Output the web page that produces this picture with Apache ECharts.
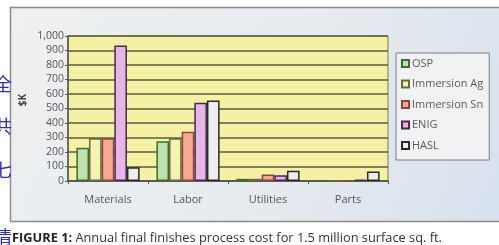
<!DOCTYPE html>
<html><head><meta charset="utf-8">
<script src="https://cdn.jsdelivr.net/npm/echarts@6/dist/echarts.min.js"></script>
<style>html,body{margin:0;padding:0;background:#fff;overflow:hidden}#c{width:499px;height:245px}</style>
</head><body><div id="c"></div>
<script>
const categories = ['Materials', 'Labor', 'Utilities', 'Parts'];
const osp = [230, 275, 15, 5];
const immersionAg = [295, 295, 15, 5];
const immersionSn = [295, 340, 45, 5];
const enig = [935, 540, 40, 10];
const hasl = [95, 555, 70, 65];
const seriesNames = ['OSP', 'Immersion Ag', 'Immersion Sn', 'ENIG', 'HASL'];
const yTicks = ['0','100','200','300','400','500','600','700','800','900','1,000'];

const fills = ['#bfe3ae', '#f6f3b4', '#f6a892', '#e6b6e6', '#eeeeee'];
const borders = ['#3f6a30', '#6a6a3a', '#8a4a3a', '#4a2a50', '#2a2a2a'];
const allData = [osp, immersionAg, immersionSn, enig, hasl];

const chart = echarts.init(document.getElementById('c'));
chart.setOption({
  animation: false,
  graphic: [
    { type: 'rect', z: -10, shape: { x: 10.5, y: 7.5, width: 500, height: 214 },
      style: { fill: new echarts.graphic.LinearGradient(0, 0, 1, 1, [
        { offset: 0, color: '#eef0f1' }, { offset: 0.6, color: '#e6eaef' }, { offset: 1, color: '#d6e0ee' }]),
        stroke: '#8c8c8c', lineWidth: 1.5 } },
    { type: 'rect', z: -5, shape: { x: 68, y: 36, width: 320, height: 145 },
      style: { fill: '#f4f0a4', stroke: '#7a7a5a', lineWidth: 1 } },
    { type: 'text', z: 6, x: 23, y: 100, rotation: Math.PI / 2,
      style: { text: '$K', font: 'bold 10px "Open Sans", sans-serif', fill: '#444', align: 'center', verticalAlign: 'middle' } },
    { type: 'text', z: 6, x: 12, y: 238,
      style: { text: '{b|FIGURE 1:} Annual final finishes process cost for 1.5 million surface sq. ft.',
        rich: { b: { font: 'bold 12.8px "Open Sans", sans-serif', fill: '#222' } },
        font: '12.8px "Open Sans", sans-serif', fill: '#333', verticalAlign: 'middle' } },
    { type: 'text', z: 6, x: -6, y: 84, style: { text: '全', font: '18px "Noto Sans CJK SC"', fill: '#2a2ad0', verticalAlign: 'middle' } },
    { type: 'text', z: 6, x: -6, y: 126, style: { text: '共', font: '18px "Noto Sans CJK SC"', fill: '#2a2ad0', verticalAlign: 'middle' } },
    { type: 'text', z: 6, x: -6, y: 170, style: { text: '七', font: '18px "Noto Sans CJK SC"', fill: '#2a2ad0', verticalAlign: 'middle' } },
    { type: 'text', z: 6, x: -6, y: 237, style: { text: '情', font: '18px "Noto Sans CJK SC"', fill: '#2a2ad0', verticalAlign: 'middle' } }
  ],
  legend: {
    orient: 'vertical', left: 396, top: 53, itemGap: 9.5, itemWidth: 7, itemHeight: 7,
    icon: 'rect', data: seriesNames,
    backgroundColor: '#f0f2f4', borderColor: '#7c7c84', borderWidth: 1,
    padding: [5, 6, 9, 5],
    textStyle: { fontFamily: '"Open Sans", sans-serif', fontSize: 11, color: '#5a5a5a', padding: [0, 0, 0, -2] }
  },
  grid: { left: 68, right: 111, top: 36, bottom: 64 },
  xAxis: {
    type: 'category', data: categories,
    axisLine: { lineStyle: { color: '#555', width: 1.5 } },
    axisTick: { show: true, length: 3, lineStyle: { color: '#555' } },
    axisLabel: { fontFamily: '"Open Sans", sans-serif', fontSize: 11, color: '#555', margin: 13 }
  },
  yAxis: {
    type: 'value', min: 0, max: 1000, interval: 100,
    axisLine: { show: true, lineStyle: { color: '#555', width: 1.5 } },
    axisTick: { show: true, length: 3, lineStyle: { color: '#555' } },
    axisLabel: { fontFamily: '"Open Sans", sans-serif', fontSize: 10.5, color: '#555', margin: 4,
      formatter: (v) => yTicks[Math.round(v / 100)] },
    splitLine: { lineStyle: { color: '#5c5a40', width: 1.5 } }
  },
  series: seriesNames.map((n, i) => ({
    name: n, type: 'bar', data: allData[i],
    barGap: '0%', barCategoryGap: '21%',
    itemStyle: { color: fills[i], borderColor: borders[i], borderWidth: 1.5 }
  }))
});
</script></body></html>
